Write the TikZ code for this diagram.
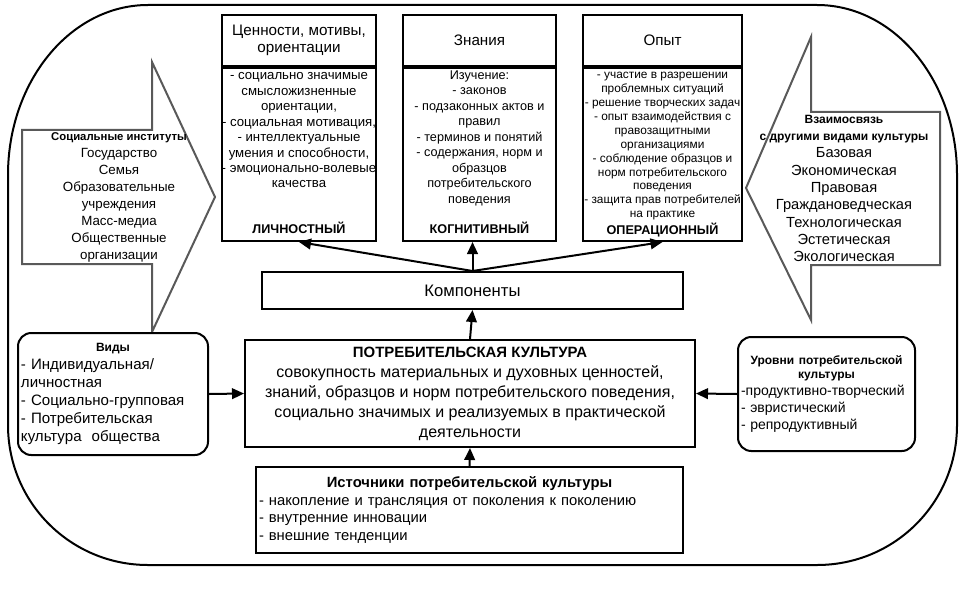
\documentclass[tikz,border=0pt]{standalone}
\usepackage{fontspec}
\setmainfont{Liberation Sans}
\usetikzlibrary{arrows.meta,positioning}

\newcommand{\fs}[2]{\fontsize{#1}{#2}\selectfont}

\begin{document}
\begin{tikzpicture}[x=0.75pt, y=-0.75pt, >={Triangle[length=9pt,width=8pt]},
    box/.style={draw, line width=1.5pt, fill=white, inner sep=2.25pt},
    rbox/.style={box, rounded corners=10pt},
    conn/.style={line width=1.5pt},
    blockarr/.style={draw=black!65, line width=1.5pt, fill=white, line join=miter},
    toptitle/.style={box, minimum height=38.25pt, align=center, font=\fs{11.4}{12.75}},
    topbody/.style={box, minimum height=129.75pt},
    toptext/.style={align=center, inner sep=1pt, font=\fs{9.5}{11.6}},
    toplabel/.style={font=\bfseries\fs{9.5}{10}}]
\useasboundingbox (0,0) rectangle (969,588);

% outer frame
\draw[line width=1.5pt] (148,5) -- (817,5)
    .. controls (894.7,5) and (957,81.1) .. (957,175) -- (957,425)
    .. controls (957,502.7) and (894.7,565) .. (817,565) -- (148,565)
    .. controls (70.7,565) and (8,502.7) .. (8,425) -- (8,175)
    .. controls (8,81.1) and (70.7,5) .. (148,5) -- cycle;

% block arrows
\draw[blockarr] (22,130) -- (152,130) -- (152,62) -- (215,197) -- (152,332)
    -- (152,264) -- (22,264) -- cycle;
\draw[blockarr] (940,112) -- (811,112) -- (811,37) -- (746,188) -- (811,320)
    -- (811,265) -- (940,265) -- cycle;

\node[align=center, inner sep=0pt, font=\fs{10}{12.75}] (inst) at (119,197)
    {\textbf{\fs{8.5}{11}Социальные институты}\\Государство\\Семья\\Образовательные\\
     учреждения\\Масс-медиа\\Общественные\\организации};
\node[align=center, inner sep=0pt, font=\fs{11}{13}] (vzaim) at (844,188.5)
    {\textbf{\fs{9}{11}Взаимосвязь}\\\textbf{\fs{9}{11}с другими видами культуры}\\
     Базовая\\Экономическая\\Правовая\\Граждановедческая\\Технологическая\\Эстетическая\\
     Экологическая};

% components (top)
\node[toptitle, minimum width=115.5pt] (lichT) at (299,40.5) {Ценности, мотивы,\\ориентации};
\node[topbody, minimum width=115.5pt, below=0pt of lichT] (lichB) {};
\node[toptext, font=\fs{9.9}{11.6}, below=3pt of lichB.north] (lichTx)
    {- социально значимые\\смысложизненные\\ориентации,\\- социальная мотивация,\\
     - интеллектуальные\\умения и способности,\\- эмоционально-волевые\\качества};
\node[toplabel, above=2.5pt of lichB.south] (lichL) {ЛИЧНОСТНЫЙ};

\node[toptitle, minimum width=114.75pt] (kogT) at (479.5,40.5) {Знания};
\node[topbody, minimum width=114.75pt, below=0pt of kogT] (kogB) {};
\node[toptext, below=1.5pt of kogB.north] (kogTx)
    {Изучение:\\- законов\\- подзаконных актов и\\правил\\- терминов и понятий\\
     - содержания, норм и\\образцов\\потребительского\\поведения};
\node[toplabel, above=2.5pt of kogB.south] (kogL) {КОГНИТИВНЫЙ};

\node[toptitle, minimum width=119.25pt] (opT) at (662.5,40.5) {Опыт};
\node[topbody, minimum width=119.25pt, below=0pt of opT] (opB) {};
\node[toptext, font=\fs{8.9}{10.4}, inner sep=0pt, below=4pt of opB.north] (opTx)
    {- участие в разрешении\\проблемных ситуаций\\- решение творческих задач\\
     - опыт взаимодействия с\\правозащитными\\организациями\\- соблюдение образцов и\\
     норм потребительского\\поведения\\- защита прав потребителей\\на практике};
\node[toplabel, above=0.5pt of opB.south] (opL) {ОПЕРАЦИОННЫЙ};

\node[box, minimum width=315.75pt, minimum height=27.75pt, font=\fs{12.5}{14}] (comp)
    at (472.5,290.5) {Компоненты};

% centre
\node[box, minimum width=337.5pt, minimum height=80.25pt, align=center, font=\fs{12}{15}]
    (cult) at (470,393.5)
    {\textbf{\fs{11.2}{15}ПОТРЕБИТЕЛЬСКАЯ КУЛЬТУРА}\\совокупность материальных и духовных ценностей,\\
     знаний, образцов и норм потребительского поведения,\\социально значимых и реализуемых в практической\\
     деятельности};

\node[box, minimum width=320.25pt, minimum height=64.5pt, text width=315.75pt, align=left,
    font=\fs{11.1}{13.4}] (src) at (469.5,510)
    {\makebox[\linewidth]{\bfseries\fs{11.1}{15}Источники потребительской культуры}\\
     - накопление и трансляция от поколения к поколению\\- внутренние инновации\\
     - внешние тенденции};

\node[rbox, minimum width=142.5pt, minimum height=91.5pt, text width=138pt, align=left,
    font=\fs{11.3}{13.6}] (vidy) at (113,394)
    {\makebox[\linewidth]{\bfseries\fs{9}{12}Виды}\\- Индивидуальная/\\личностная\\
     - Социально-групповая\\- Потребительская\\культура~ общества};

\node[rbox, minimum width=132.75pt, minimum height=85.5pt, text width=128.25pt, align=left,
    font=\fs{10.5}{12.8}] (urov) at (826.5,394)
    {\parbox[t]{\linewidth}{\centering\bfseries\fs{9}{10.5}Уровни потребительской\\культуры}\\[1.5pt]
     -продуктивно-творческий\\- эвристический\\- репродуктивный};

% connectors
\draw[conn,->] (comp.north) -- (lichB.south);
\draw[conn,->] (comp.north) -- (comp.north |- kogB.south);
\draw[conn,->] (comp.north) -- (opB.south);
\draw[conn,->] (cult.north) -- (comp.south);
\draw[conn,->] (src.north) -- (cult.south);
\draw[conn,->] (vidy.east) -- (cult.west);
\draw[conn,->] (urov.west) -- (cult.east);
\end{tikzpicture}
\end{document}
